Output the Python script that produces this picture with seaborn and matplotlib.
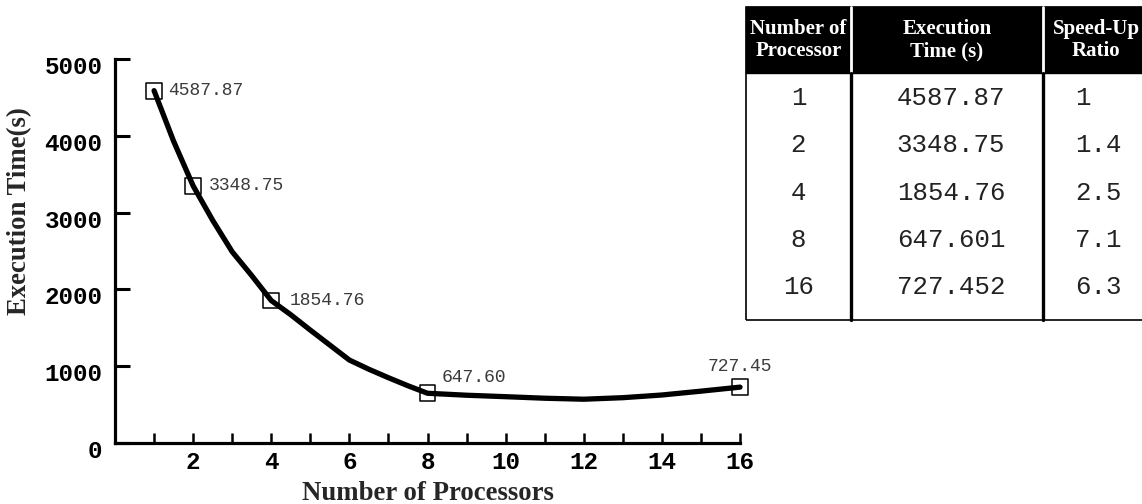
import matplotlib
matplotlib.use("Agg")
import matplotlib.pyplot as plt
import matplotlib.transforms as mtransforms
from matplotlib.patches import Rectangle
from matplotlib.lines import Line2D
import seaborn as sns

# Data
processors = [1, 2, 4, 8, 16]
exec_time = [4587.87, 3348.75, 1854.76, 647.601, 727.452]
speedup = [1, 1.4, 2.5, 7.1, 6.3]

# smoothed curve
curve_x = [1, 1.5, 2, 2.5, 3, 3.5, 4, 4.5, 5, 5.5, 6, 6.5, 7, 7.5, 8,
           9, 10, 11, 12, 13, 14, 15, 16]
curve_y = [4587.87, 3930, 3348.75, 2900, 2490, 2180, 1854.76, 1670, 1470,
           1275, 1080, 960, 850, 745, 647.6,
           622, 603, 583, 570, 590, 625, 675, 727.45]

table_header = ["Number of\nProcessor", "Execution\nTime (s)", "Speed-Up\nRatio"]

sns.set_style("white")
plt.rcParams["font.family"] = ["Liberation Mono", "DejaVu Sans"]

W, H = 1142, 504
fig = plt.figure(figsize=(W / 100, H / 100), dpi=100)
ax = fig.add_axes([115 / W, 61 / H, 625 / W, 384 / H])

sns.scatterplot(x=processors, y=exec_time, marker="s", s=130,
                facecolor="none", edgecolor="black", linewidth=1.1,
                ax=ax, zorder=3, clip_on=False)
sns.lineplot(x=curve_x, y=curve_y, color="black", lw=3.8, ax=ax,
             zorder=4, solid_capstyle="round", solid_joinstyle="round",
             clip_on=False)

# point labels
offsets = [(10, 0, "left", "center"), (11.5, 0, "left", "center"),
           (13, 0, "left", "center"), (10, 11.5, "left", "center"),
           (0, 15, "center", "center")]
for xv, yv, (dx, dy, ha, va) in zip(processors, exec_time, offsets):
    ax.annotate(f"{yv:.2f}", (xv, yv), xytext=(dx, dy), textcoords="offset points",
                ha=ha, va=va, fontsize=13, color="#3a3a3a",
                family="Liberation Mono", annotation_clip=False)

ax.set_xlim(0, 16)
ax.set_ylim(0, 5000)
ax.set_xticks(range(1, 17))
ax.set_xticklabels([str(i) if i % 2 == 0 else "" for i in range(1, 17)])
ax.set_yticks(range(0, 5001, 1000))
ax.set_yticklabels([str(v) for v in range(0, 5001, 1000)])
ax.tick_params(axis="x", bottom=True, direction="in", length=7, width=1.8,
               pad=6, labelsize=17.5, colors="black")
ax.tick_params(axis="y", left=True, direction="in", length=11, width=2.2,
               pad=9, labelsize=17.5, colors="black")
for lab in ax.get_xticklabels() + ax.get_yticklabels():
    lab.set_fontweight("bold")
    lab.set_family("Liberation Mono")
shift = mtransforms.ScaledTranslation(0, -0.06, fig.dpi_scale_trans)
for lab in ax.get_yticklabels():
    lab.set_transform(lab.get_transform() + shift)

sns.despine(ax=ax)
for side in ["left", "bottom"]:
    ax.spines[side].set_linewidth(2.3)
    ax.spines[side].set_color("black")
ax.set_xlabel("")
ax.set_ylabel("")

fig.text(428 / W, 1 - 493 / H, "Number of Processors", ha="center", va="center",
         family="Liberation Serif", weight="bold", fontsize=19.3)
fig.text(20 / W, 1 - 211 / H, "Execution Time(s)", ha="center", va="center",
         rotation=90, family="Liberation Serif", weight="bold", fontsize=19.3)

# table drawn in figure pixel coordinates
def px(x, y):
    return x / W, 1 - y / H

tl, tt, tb, hb = 746, 7, 320, 73
cols = [tl, 851, 1043, 1150]
fig.patches.append(Rectangle(px(tl, hb), (W + 10 - tl) / W, (hb - tt) / H,
                             transform=fig.transFigure, facecolor="black",
                             edgecolor="black", lw=1))
fig.patches.append(Rectangle(px(tl, tb), (W + 10 - tl) / W, (tb - tt) / H,
                             transform=fig.transFigure, facecolor="none",
                             edgecolor="black", lw=1.2))
for cx in cols[1:3]:
    fig.lines.append(Line2D([cx / W, cx / W], [1 - tt / H, 1 - hb / H],
                            transform=fig.transFigure, color="white", lw=2))
    fig.lines.append(Line2D([cx / W, cx / W], [1 - hb / H, 1 - tb / H],
                            transform=fig.transFigure, color="black", lw=2.4))

head_x = [798.5, 947, 1096]
for hx, txt in zip(head_x, table_header):
    fig.text(*px(hx, 40), txt, ha="center", va="center", color="white",
             family="Liberation Serif", weight="bold", fontsize=15,
             linespacing=1.15)

for i, (p, t, s) in enumerate(zip(processors, exec_time, speedup)):
    ry = 98 + i * 47.25
    fig.text(*px(798.5, ry), str(p), ha="center", va="center",
             fontsize=18.5, color="#222222", family="Liberation Mono")
    fig.text(*px(951, ry), f"{t:g}", ha="center", va="center",
             fontsize=18.5, color="#222222", family="Liberation Mono")
    fig.text(*px(1075, ry), f"{s:g}", ha="left", va="center",
             fontsize=18.5, color="#222222", family="Liberation Mono")

fig.savefig("out.png", dpi=100)
